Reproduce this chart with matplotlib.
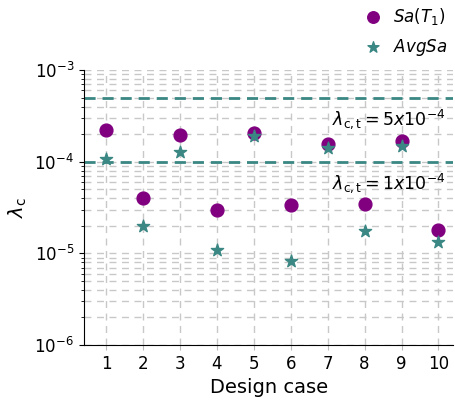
import matplotlib

matplotlib.use("Agg")
import matplotlib.pyplot as plt
import numpy as np

PURPLE = "#800080"
TEAL = "#3a8784"

cases = np.arange(1, 11)
lam_sa_t1 = [2.2e-4, 4.0e-5, 1.95e-4, 2.95e-5, 2.05e-4, 3.35e-5, 1.55e-4, 3.5e-5, 1.68e-4, 1.8e-5]
lam_avgsa = [1.06e-4, 2.0e-5, 1.27e-4, 1.08e-5, 1.9e-4, 8.2e-6, 1.43e-4, 1.75e-5, 1.48e-4, 1.32e-5]
targets = [5e-4, 1e-4]
target_labels = [r"$\lambda_{\rm c,t} = 5x10^{-4}$", r"$\lambda_{\rm c,t} = 1x10^{-4}$"]

fig = plt.figure(figsize=(4.56, 4.03), dpi=100)
ax = fig.add_axes([0.184, 0.144, 0.81, 0.682])

ax.scatter(cases, lam_sa_t1, s=85, c=PURPLE, marker="o", label=r"$Sa(T_1)$", zorder=3)
ax.scatter(cases, lam_avgsa, s=85, c=TEAL, marker="*", label=r"$AvgSa$", zorder=3)

for val, txt in zip(targets, target_labels):
    ax.axhline(val, color=TEAL, linestyle="--", linewidth=2, dashes=(4, 2.5), zorder=2)
    ax.text(10.2, val * 0.78, txt, ha="right", va="top", fontsize=12.5)

ax.set_yscale("log")
ax.set_ylim(1e-6, 1e-3)
ax.set_xlim(0.4, 10.4)
ax.set_xticks(cases)
ax.tick_params(axis="both", labelsize=12)
ax.tick_params(axis="x", color="#bbbbbb")
ax.grid(True, which="both", color="#c8c8c8", linestyle=(0, (5, 4)), linewidth=1)
ax.spines["top"].set_visible(False)
ax.spines["right"].set_visible(False)
ax.set_xlabel("Design case", fontsize=14)
ax.set_ylabel(r"$\lambda_{\rm c}$", fontsize=14)

ax.legend(loc="lower right", bbox_to_anchor=(1.025, 0.99), frameon=False, fontsize=12,
          handletextpad=0.2, labelspacing=0.6, markerscale=0.9)

fig.savefig("out.png", dpi=100)
